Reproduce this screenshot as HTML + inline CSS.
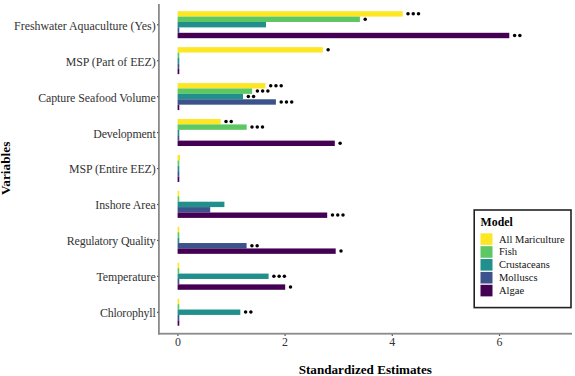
<!DOCTYPE html><html><head><meta charset="utf-8"><style>html,body{margin:0;padding:0;background:#fff;}svg{display:block;}text{font-family:"Liberation Serif",serif;}</style></head><body>
<svg width="575" height="376" viewBox="0 0 575 376">
<rect x="0" y="0" width="575" height="376" fill="#fff"/>
<rect x="177.60" y="11.20" width="225.10" height="5.40" fill="#FDE725"/>
<circle cx="408.00" cy="13.80" r="1.75" fill="#000"/>
<circle cx="413.25" cy="13.80" r="1.75" fill="#000"/>
<circle cx="418.50" cy="13.80" r="1.75" fill="#000"/>
<rect x="177.60" y="16.60" width="182.30" height="5.40" fill="#5DC863"/>
<circle cx="365.20" cy="19.20" r="1.75" fill="#000"/>
<rect x="177.60" y="22.00" width="88.40" height="5.40" fill="#21908C"/>
<rect x="177.60" y="27.40" width="1.70" height="5.40" fill="#3B528B"/>
<rect x="177.60" y="32.80" width="331.70" height="5.40" fill="#440154"/>
<circle cx="514.60" cy="35.40" r="1.75" fill="#000"/>
<circle cx="519.85" cy="35.40" r="1.75" fill="#000"/>
<rect x="177.60" y="47.14" width="145.20" height="5.40" fill="#FDE725"/>
<circle cx="328.10" cy="49.74" r="1.75" fill="#000"/>
<rect x="177.60" y="52.54" width="1.70" height="5.40" fill="#5DC863"/>
<rect x="177.60" y="57.94" width="1.70" height="5.40" fill="#21908C"/>
<rect x="177.60" y="63.34" width="1.70" height="5.40" fill="#3B528B"/>
<rect x="177.60" y="68.74" width="1.70" height="5.40" fill="#440154"/>
<rect x="177.60" y="83.08" width="87.80" height="5.40" fill="#FDE725"/>
<circle cx="270.70" cy="85.68" r="1.75" fill="#000"/>
<circle cx="275.95" cy="85.68" r="1.75" fill="#000"/>
<circle cx="281.20" cy="85.68" r="1.75" fill="#000"/>
<rect x="177.60" y="88.48" width="74.50" height="5.40" fill="#5DC863"/>
<circle cx="257.40" cy="91.08" r="1.75" fill="#000"/>
<circle cx="262.65" cy="91.08" r="1.75" fill="#000"/>
<circle cx="267.90" cy="91.08" r="1.75" fill="#000"/>
<rect x="177.60" y="93.88" width="65.40" height="5.40" fill="#21908C"/>
<circle cx="248.30" cy="96.48" r="1.75" fill="#000"/>
<circle cx="253.55" cy="96.48" r="1.75" fill="#000"/>
<rect x="177.60" y="99.28" width="98.30" height="5.40" fill="#3B528B"/>
<circle cx="281.20" cy="101.88" r="1.75" fill="#000"/>
<circle cx="286.45" cy="101.88" r="1.75" fill="#000"/>
<circle cx="291.70" cy="101.88" r="1.75" fill="#000"/>
<rect x="177.60" y="104.68" width="1.70" height="5.40" fill="#440154"/>
<rect x="177.60" y="119.02" width="43.10" height="5.40" fill="#FDE725"/>
<circle cx="226.00" cy="121.62" r="1.75" fill="#000"/>
<circle cx="231.25" cy="121.62" r="1.75" fill="#000"/>
<rect x="177.60" y="124.42" width="69.10" height="5.40" fill="#5DC863"/>
<circle cx="252.00" cy="127.02" r="1.75" fill="#000"/>
<circle cx="257.25" cy="127.02" r="1.75" fill="#000"/>
<circle cx="262.50" cy="127.02" r="1.75" fill="#000"/>
<rect x="177.60" y="129.82" width="1.70" height="5.40" fill="#21908C"/>
<rect x="177.60" y="135.22" width="1.70" height="5.40" fill="#3B528B"/>
<rect x="177.60" y="140.62" width="157.20" height="5.40" fill="#440154"/>
<circle cx="340.10" cy="143.22" r="1.75" fill="#000"/>
<rect x="177.60" y="154.96" width="2.40" height="5.40" fill="#FDE725"/>
<rect x="177.60" y="160.36" width="1.70" height="5.40" fill="#5DC863"/>
<rect x="177.60" y="165.76" width="1.70" height="5.40" fill="#21908C"/>
<rect x="177.60" y="171.16" width="1.70" height="5.40" fill="#3B528B"/>
<rect x="177.60" y="176.56" width="1.70" height="5.40" fill="#440154"/>
<rect x="177.60" y="190.90" width="1.70" height="5.40" fill="#FDE725"/>
<rect x="177.60" y="196.30" width="1.70" height="5.40" fill="#5DC863"/>
<rect x="177.60" y="201.70" width="46.80" height="5.40" fill="#21908C"/>
<rect x="177.60" y="207.10" width="32.60" height="5.40" fill="#3B528B"/>
<rect x="177.60" y="212.50" width="149.60" height="5.40" fill="#440154"/>
<circle cx="332.50" cy="215.10" r="1.75" fill="#000"/>
<circle cx="337.75" cy="215.10" r="1.75" fill="#000"/>
<circle cx="343.00" cy="215.10" r="1.75" fill="#000"/>
<rect x="177.60" y="226.84" width="1.70" height="5.40" fill="#FDE725"/>
<rect x="177.60" y="232.24" width="1.70" height="5.40" fill="#5DC863"/>
<rect x="177.60" y="237.64" width="1.70" height="5.40" fill="#21908C"/>
<rect x="177.60" y="243.04" width="69.00" height="5.40" fill="#3B528B"/>
<circle cx="251.90" cy="245.64" r="1.75" fill="#000"/>
<circle cx="257.15" cy="245.64" r="1.75" fill="#000"/>
<rect x="177.60" y="248.44" width="158.10" height="5.40" fill="#440154"/>
<circle cx="341.00" cy="251.04" r="1.75" fill="#000"/>
<rect x="177.60" y="262.78" width="1.70" height="5.40" fill="#FDE725"/>
<rect x="177.60" y="268.18" width="1.70" height="5.40" fill="#5DC863"/>
<rect x="177.60" y="273.58" width="91.00" height="5.40" fill="#21908C"/>
<circle cx="273.90" cy="276.18" r="1.75" fill="#000"/>
<circle cx="279.15" cy="276.18" r="1.75" fill="#000"/>
<circle cx="284.40" cy="276.18" r="1.75" fill="#000"/>
<rect x="177.60" y="278.98" width="1.70" height="5.40" fill="#3B528B"/>
<rect x="177.60" y="284.38" width="107.60" height="5.40" fill="#440154"/>
<circle cx="290.50" cy="286.98" r="1.75" fill="#000"/>
<rect x="177.60" y="298.72" width="1.70" height="5.40" fill="#FDE725"/>
<rect x="177.60" y="304.12" width="1.70" height="5.40" fill="#5DC863"/>
<rect x="177.60" y="309.52" width="62.70" height="5.40" fill="#21908C"/>
<circle cx="245.60" cy="312.12" r="1.75" fill="#000"/>
<circle cx="250.85" cy="312.12" r="1.75" fill="#000"/>
<rect x="177.60" y="314.92" width="1.70" height="5.40" fill="#3B528B"/>
<rect x="177.60" y="320.32" width="1.70" height="5.40" fill="#440154"/>
<rect x="158" y="4" width="1.8" height="330.5" fill="#8a8a8a"/>
<rect x="158" y="332.8" width="414" height="1.8" fill="#8a8a8a"/>
<rect x="157" y="24.20" width="1.4" height="1.2" fill="#555"/>
<text x="155.7" y="29.70" font-size="11.9" fill="#333333" text-anchor="end" textLength="141.6" lengthAdjust="spacing">Freshwater Aquaculture (Yes)</text>
<rect x="157" y="60.14" width="1.4" height="1.2" fill="#555"/>
<text x="155.7" y="66.10" font-size="11.9" fill="#333333" text-anchor="end" textLength="90.05" lengthAdjust="spacing">MSP (Part of EEZ)</text>
<rect x="157" y="96.08" width="1.4" height="1.2" fill="#555"/>
<text x="155.7" y="101.90" font-size="11.9" fill="#333333" text-anchor="end" textLength="117.5" lengthAdjust="spacing">Capture Seafood Volume</text>
<rect x="157" y="132.02" width="1.4" height="1.2" fill="#555"/>
<text x="155.7" y="138.00" font-size="11.9" fill="#333333" text-anchor="end" textLength="62.46" lengthAdjust="spacing">Development</text>
<rect x="157" y="167.96" width="1.4" height="1.2" fill="#555"/>
<text x="155.7" y="173.20" font-size="11.9" fill="#333333" text-anchor="end" textLength="86.78" lengthAdjust="spacing">MSP (Entire EEZ)</text>
<rect x="157" y="203.90" width="1.4" height="1.2" fill="#555"/>
<text x="155.7" y="209.00" font-size="11.9" fill="#333333" text-anchor="end" textLength="60.39" lengthAdjust="spacing">Inshore Area</text>
<rect x="157" y="239.84" width="1.4" height="1.2" fill="#555"/>
<text x="155.7" y="245.10" font-size="11.9" fill="#333333" text-anchor="end" textLength="88.98" lengthAdjust="spacing">Regulatory Quality</text>
<rect x="157" y="275.78" width="1.4" height="1.2" fill="#555"/>
<text x="155.7" y="281.10" font-size="11.9" fill="#333333" text-anchor="end" textLength="59.21" lengthAdjust="spacing">Temperature</text>
<rect x="157" y="311.72" width="1.4" height="1.2" fill="#555"/>
<text x="155.7" y="317.00" font-size="11.9" fill="#333333" text-anchor="end" textLength="55.78" lengthAdjust="spacing">Chlorophyll</text>
<rect x="177.30" y="334.4" width="1.2" height="1.6" fill="#555"/>
<text x="177.90" y="346.3" font-size="11.9" fill="#333333" text-anchor="middle">0</text>
<rect x="284.50" y="334.4" width="1.2" height="1.6" fill="#555"/>
<text x="285.10" y="346.3" font-size="11.9" fill="#333333" text-anchor="middle">2</text>
<rect x="391.70" y="334.4" width="1.2" height="1.6" fill="#555"/>
<text x="392.30" y="346.3" font-size="11.9" fill="#333333" text-anchor="middle">4</text>
<rect x="498.90" y="334.4" width="1.2" height="1.6" fill="#555"/>
<text x="499.50" y="346.3" font-size="11.9" fill="#333333" text-anchor="middle">6</text>
<text x="365.3" y="373.5" font-size="13.5" font-weight="bold" fill="#000" text-anchor="middle" textLength="133.2" lengthAdjust="spacingAndGlyphs">Standardized Estimates</text>
<text transform="translate(9.6,168.4) rotate(-90)" font-size="13.3" font-weight="bold" fill="#000" text-anchor="middle">Variables</text>
<rect x="474.2" y="210" width="96.8" height="97.6" fill="#fff" stroke="#222" stroke-width="1.6"/>
<text x="480.6" y="225.7" font-size="11.8" font-weight="bold" fill="#000">Model</text>
<rect x="480.5" y="233.30" width="12" height="11.6" fill="#FDE725"/>
<text x="499" y="242.60" font-size="10.5" fill="#111">All Mariculture</text>
<rect x="480.5" y="246.17" width="12" height="11.6" fill="#5DC863"/>
<text x="499" y="255.47" font-size="10.5" fill="#111">Fish</text>
<rect x="480.5" y="259.04" width="12" height="11.6" fill="#21908C"/>
<text x="499" y="268.34" font-size="10.5" fill="#111">Crustaceans</text>
<rect x="480.5" y="271.91" width="12" height="11.6" fill="#3B528B"/>
<text x="499" y="281.21" font-size="10.5" fill="#111">Molluscs</text>
<rect x="480.5" y="284.78" width="12" height="11.6" fill="#440154"/>
<text x="499" y="294.08" font-size="10.5" fill="#111">Algae</text>
</svg></body></html>
